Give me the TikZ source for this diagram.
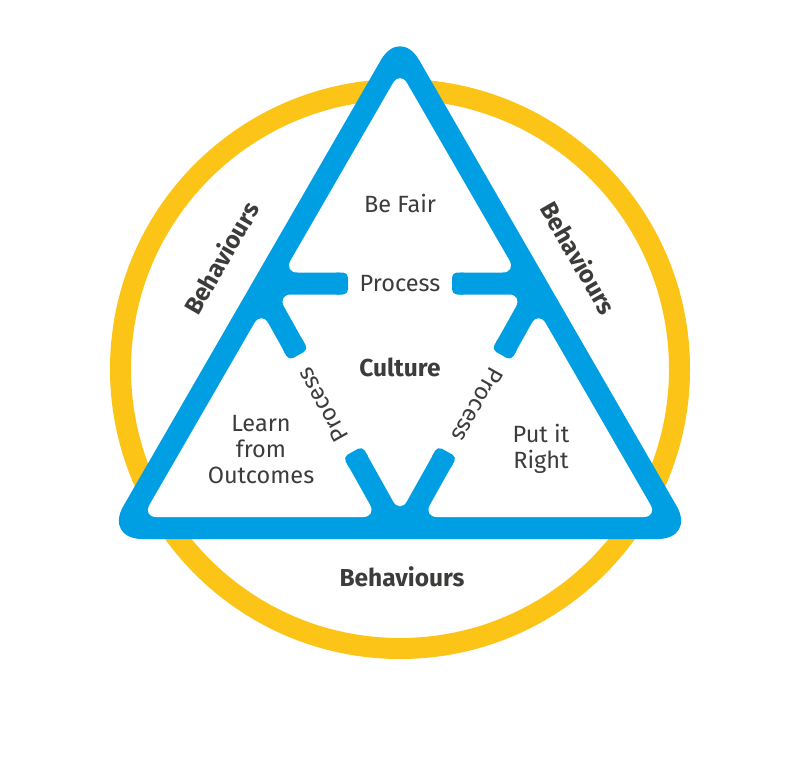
\documentclass[tikz,border=0pt]{standalone}
\usepackage{fontspec}
\setmainfont{Fira Sans}
\usetikzlibrary{calc}
\definecolor{cblue}{RGB}{0,159,227}
\definecolor{cyel}{RGB}{252,196,22}
\definecolor{ctext}{RGB}{60,60,59}
\newcommand\stubtip[2]{%
  \coordinate (tb) at ($(#1)!16pt!(#2)$);
  \fill[cblue, rounded corners=5pt] ($(#1)!11pt!90:(#2)$) -- ($(#1)!11pt!-90:(#2)$) -- ($(tb)!11pt!-90:(#2)$) -- ($(tb)!11pt!90:(#2)$) -- cycle;}
\newcommand\gapcut[2]{%
  \coordinate (ga) at ($(#1)!-8pt!(#2)$);
  \coordinate (gb) at ($(#2)!-8pt!(#1)$);
  \fill[white] ($(ga)!12pt!90:(gb)$) -- ($(ga)!12pt!-90:(gb)$) -- ($(gb)!12pt!90:(ga)$) -- ($(gb)!12pt!-90:(ga)$) -- cycle;}
\begin{document}
\begin{tikzpicture}[x=1pt,y=-1pt,
  lbl/.style={text=ctext, font=\fontsize{23.5}{26}\selectfont, align=center, inner sep=0pt},
  blbl/.style={lbl, font=\fontsize{24.5}{26}\selectfont\bfseries},
  hole/.style={fill=white, rounded corners=14pt}]
\useasboundingbox (0,0) rectangle (800,768);
\fill[white] (0,0) rectangle (800,768);
% ring
\draw[cyel, line width=21pt] (400,369) circle[radius=279.5pt];
% blue triangle
\fill[cblue, rounded corners=38pt] (400,27) -- (104.35,539) -- (695.65,539) -- cycle;
% white sub-triangles
\path[hole] (400,71) -- (283.65,272.5) -- (516.35,272.5) -- cycle;
\path[hole] (261.4,311.1) -- (142.5,517) -- (376.8,517) -- cycle;
\path[hole] (538.6,311.1) -- (657.5,517) -- (423.2,517) -- cycle;
\path[hole] (277.3,294.5) -- (522.7,294.5) -- (400,513.5) -- cycle;
% inner triangle vertices and stub ends
\coordinate (P) at (258.5,283.5);
\coordinate (Q) at (541.5,283.5);
\coordinate (R) at (400,536);
\coordinate (E1) at (298.5,355);
\coordinate (E2) at (352.8,451.7);
\coordinate (E3) at (348,283.5);
\coordinate (E4) at (452,283.5);
\coordinate (E5) at (501.5,355);
\coordinate (E6) at (447.2,451.7);
\gapcut{E1}{E2}
\gapcut{E3}{E4}
\gapcut{E5}{E6}
\stubtip{E1}{P}
\stubtip{E2}{R}
\stubtip{E3}{P}
\stubtip{E4}{Q}
\stubtip{E5}{Q}
\stubtip{E6}{R}
% texts
\node[lbl] (befair) at (400,203) {Be Fair};
\node[lbl] (proc1) at (400,283.5) {Process};
\node[blbl] (culture) at (400,367) {Culture};
\node[lbl] (learn) at (261,450) {Learn\\from\\Outcomes};
\node[lbl] (putit) at (541,449) {Put it\\Right};
\node[lbl, rotate=119.3] (proc2) at (322.5,405) {Process};
\node[lbl, rotate=-119.3] (proc3) at (477.5,405) {Process};
\node[blbl, rotate=60] (beh1) at (221,258) {Behaviours};
\node[blbl, rotate=-60] (beh2) at (579,258) {Behaviours};
\node[blbl] (beh3) at (402,577) {Behaviours};
\end{tikzpicture}
\end{document}
